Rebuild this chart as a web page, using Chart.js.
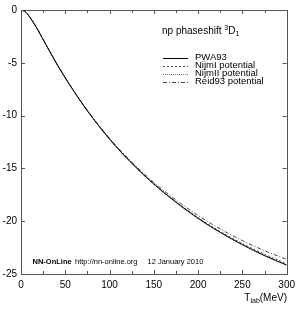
<!DOCTYPE html>
<html>
<head>
<meta charset="utf-8">
<script src="https://cdn.jsdelivr.net/npm/chart.js@4/dist/chart.umd.min.js"></script>
<style>
html,body{margin:0;padding:0;background:#fff;}
canvas{display:block;}
</style>
</head>
<body>
<canvas id="c" width="300" height="311"></canvas>
<script>
const energies = [0,5,10,15,20,25,30,40,50,60,75,100,125,150,175,200,225,250,275,300];
const pwa93   = [0,-0.18,-0.68,-1.32,-2.03,-2.80,-3.55,-5.05,-6.43,-7.73,-9.55,-12.23,-14.50,-16.48,-18.20,-19.73,-21.05,-22.22,-23.25,-24.15];
const nijmI   = [0,-0.18,-0.68,-1.32,-2.03,-2.80,-3.55,-5.04,-6.42,-7.72,-9.53,-12.20,-14.46,-16.43,-18.14,-19.66,-20.97,-22.12,-23.13,-24.02];
const nijmII  = [0,-0.18,-0.68,-1.32,-2.03,-2.80,-3.55,-5.05,-6.44,-7.74,-9.57,-12.26,-14.54,-16.52,-18.24,-19.77,-21.09,-22.26,-23.29,-24.18];
const reid93  = [0,-0.18,-0.68,-1.32,-2.03,-2.80,-3.55,-5.04,-6.41,-7.70,-9.50,-12.15,-14.38,-16.32,-17.99,-19.46,-20.73,-21.84,-22.79,-23.62];
const seriesNames = ["PWA93","NijmI potential","NijmII potential","Reid93 potential"];
const xTicks = [0,50,100,150,200,250,300];
const yTicks = [0,-5,-10,-15,-20,-25];

const FONT = "'Liberation Sans', Arial, Helvetica, sans-serif";
const pts = arr => energies.map((e,i)=>({x:e,y:arr[i]}));
const styles = [
  {color:'#000', dash:[], width:1},
  {color:'#333', dash:[2,2], width:0.9},
  {color:'#666', dash:[1,1], width:0.9},
  {color:'#333', dash:[4,2,1,2], width:0.9}
];
const allSeries = [pwa93,nijmI,nijmII,reid93];

const decor = {
  id:'decor',
  afterDatasetsDraw(chart){
    const ctx = chart.ctx, a = chart.chartArea;
    const xs = chart.scales.x, ys = chart.scales.y;
    ctx.save();
    // frame
    ctx.strokeStyle = '#555'; ctx.lineWidth = 1;
    ctx.strokeRect(Math.round(a.left)+0.5, Math.round(a.top)+0.5, Math.round(a.right-a.left), Math.round(a.bottom-a.top));
    // ticks inside
    ctx.beginPath();
    for (let v=0; v<=300; v+=25){
      const px = Math.round(xs.getPixelForValue(v))+0.5;
      const len = (v%50===0)?4:3;
      ctx.moveTo(px, a.bottom); ctx.lineTo(px, a.bottom-len);
      ctx.moveTo(px, a.top); ctx.lineTo(px, a.top+len);
    }
    for (const v of yTicks){
      const py = Math.round(ys.getPixelForValue(v))+0.5;
      ctx.moveTo(a.left, py); ctx.lineTo(a.left+4, py);
      ctx.moveTo(a.right, py); ctx.lineTo(a.right-4, py);
    }
    ctx.stroke();
    // title
    ctx.fillStyle = '#000';
    ctx.textBaseline = 'alphabetic';
    ctx.font = '10px ' + FONT;
    let tx = 162, ty = 34;
    ctx.fillText('np phaseshift ', tx, ty);
    tx += ctx.measureText('np phaseshift ').width;
    ctx.font = '7px ' + FONT;
    ctx.fillText('3', tx, ty-4);
    tx += ctx.measureText('3').width;
    ctx.font = '10px ' + FONT;
    ctx.fillText('D', tx, ty);
    tx += ctx.measureText('D').width;
    ctx.font = '7px ' + FONT;
    ctx.fillText('1', tx, ty+2);
    // legend
    const rows = [57.5, 65.5, 73.5, 81.5];
    ctx.font = '9.5px ' + FONT;
    ctx.textBaseline = 'middle';
    seriesNames.forEach((n,i)=>{
      const s = styles[i];
      ctx.strokeStyle = s.color; ctx.lineWidth = s.width; ctx.setLineDash(s.dash);
      const ly = Math.round(rows[i]) + 0.5;
      ctx.beginPath(); ctx.moveTo(163, ly); ctx.lineTo(188, ly); ctx.stroke();
      ctx.setLineDash([]);
      ctx.fillStyle = '#000';
      ctx.fillText(n, 195, rows[i]);
    });
    // footer
    ctx.textBaseline = 'middle';
    ctx.font = 'bold 7.5px ' + FONT;
    ctx.fillText('NN-OnLine', 32.5, 261.5);
    ctx.font = '7.5px ' + FONT;
    ctx.fillText('http://nn-online.org', 75, 261.5);
    ctx.fillText('12 January 2010', 147.5, 261.5);
    // x axis title
    ctx.font = '10px ' + FONT;
    ctx.textBaseline = 'alphabetic';
    const by = 301;
    const w1 = ctx.measureText('T').width;
    ctx.font = '7px ' + FONT;
    const w2 = ctx.measureText('lab').width;
    ctx.font = '10px ' + FONT;
    const w3 = ctx.measureText('(MeV)').width;
    let sx = 287 - (w1+w2+w3);
    ctx.fillText('T', sx, by); sx += w1;
    ctx.font = '7px ' + FONT;
    ctx.fillText('lab', sx, by+2); sx += w2;
    ctx.font = '10px ' + FONT;
    ctx.fillText('(MeV)', sx, by);
    ctx.restore();
  }
};

new Chart(document.getElementById('c'), {
  type:'line',
  data:{
    datasets: allSeries.map((arr,i)=>({
      label: seriesNames[i],
      data: pts(arr),
      borderColor: styles[i].color,
      borderWidth: styles[i].width,
      borderDash: styles[i].dash,
      pointRadius: 0,
      fill:false,
      cubicInterpolationMode:'monotone'
    }))
  },
  options:{
    responsive:false,
    animation:false,
    layout:{padding:{top:8,right:13,left:0,bottom:0}},
    plugins:{legend:{display:false},tooltip:{enabled:false}},
    scales:{
      x:{
        type:'linear', min:0, max:300,
        afterBuildTicks(s){ s.ticks = xTicks.map(v=>({value:v})); },
        afterFit(s){ s.height = 37; },
        grid:{display:false, drawTicks:false},
        border:{display:false},
        ticks:{color:'#000', padding:5, maxRotation:0, font:{family:FONT,size:10}}
      },
      y:{
        type:'linear', min:-25, max:0,
        afterBuildTicks(s){ s.ticks = yTicks.map(v=>({value:v})); },
        afterFit(s){ s.width = 21; },
        grid:{display:false, drawTicks:false},
        border:{display:false},
        ticks:{color:'#000', padding:4, font:{family:FONT,size:10}}
      }
    }
  },
  plugins:[decor]
});
</script>
</body>
</html>
